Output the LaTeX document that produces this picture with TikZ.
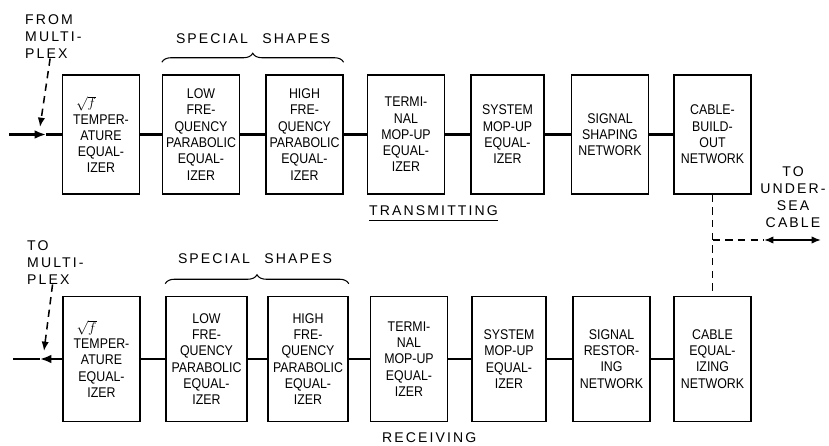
\documentclass[tikz,border=0pt]{standalone}
\usepackage{fontspec}
\usepackage{tikz}
\usetikzlibrary{arrows.meta, decorations.pathreplacing}
\newfontfamily\letterfont{Liberation Sans}
\newfontfamily\narrowfont[FakeStretch=0.88]{Liberation Sans}
\newcommand{\boxfont}{\fontsize{12}{13.9}\narrowfont}
\newcommand{\labfont}{\fontsize{12}{14.6}\letterfont\addfontfeatures{LetterSpace=15}}

\begin{document}
\begin{tikzpicture}[
    blk/.style={draw, line width=1.3pt, minimum width=23mm,
                minimum height=35.7mm, align=center, font=\boxfont,
                inner sep=1pt},
    rblk/.style={blk, minimum height=37.5mm},
    sig/.style={line width=1.8pt},
    arr/.style={-{Latex[length=3.4mm, width=2.6mm]}, line width=1.8pt},
    dsh/.style={line width=1.3pt, dash pattern=on 2.2mm off 1.6mm},
    lab/.style={font=\labfont, align=left, anchor=north west, inner sep=0pt},
    x=0.3mm, y=-0.3mm
  ]
  \useasboundingbox (0,0) rectangle (829,446);

  % Transmitting chain
  \node[lab] (fm) at (25,14) {FROM\\MULTI-\\PLEX};
  \coordinate (tin) at (9,134.5);
  \coordinate (tmark) at (46,134.5);
  \coordinate (fmtip) at (40,127);
  \node[blk] (tx1) at (101,134.5)
    {$\sqrt{f}$\hspace*{9mm}\\TEMPER-\\ATURE\\EQUAL-\\IZER};
  \node[blk] (tx2) at (201,134.5)
    {LOW\\FRE-\\QUENCY\\PARABOLIC\\EQUAL-\\IZER};
  \node[blk] (tx3) at (304.5,134.5)
    {HIGH\\FRE-\\QUENCY\\PARABOLIC\\EQUAL-\\IZER};
  \node[blk] (tx4) at (406,134.5)
    {TERMI-\\NAL\\MOP-UP\\EQUAL-\\IZER};
  \node[blk, minimum width=22mm] (tx5) at (507.5,134.5)
    {SYSTEM\\MOP-UP\\EQUAL-\\IZER};
  \node[blk] (tx6) at (610,134.5)
    {SIGNAL\\SHAPING\\NETWORK};
  \node[blk] (tx7) at (712.5,134.5)
    {CABLE-\\BUILD-\\OUT\\NETWORK};
  \draw[dsh, -{Latex[length=2.8mm, width=2.2mm]}] (fm) -- (fmtip);
  \draw[arr] (tin) -- (tmark);
  \draw[sig] (tmark) -- (tx1);
  \draw[sig] (tx1) -- (tx2);
  \draw[sig] (tx2) -- (tx3);
  \draw[sig] (tx3) -- (tx4);
  \draw[sig] (tx4) -- (tx5);
  \draw[sig] (tx5) -- (tx6);
  \draw[sig] (tx6) -- (tx7);
  \draw[decorate, decoration={brace, amplitude=2.7mm}, line width=0.9pt]
    ([yshift=3.6mm]tx2.north west) -- ([yshift=3.6mm]tx3.north east);
  \node[lab, anchor=center] (tsp) at (253,39) {SPECIAL\hspace{2.5mm} SHAPES};
  \node[lab, inner sep=1.5mm] (trn) at (364,200) {TRANSMITTING};
  \draw[line width=0.9pt] ([xshift=1.5mm]trn.south west) -- ([xshift=-1.5mm]trn.south east);

  % Receiving chain
  \node[lab] (tm) at (27,240) {TO\\MULTI-\\PLEX};
  \coordinate (rout) at (13,359);
  \coordinate (rmark) at (40,359);
  \coordinate (tmtip) at (44,351);
  \node[rblk] (rx1) at (101.5,359)
    {$\sqrt{f}$\hspace*{9mm}\\TEMPER-\\ATURE\\EQUAL-\\IZER};
  \node[rblk, minimum width=24.3mm] (rx2) at (206.5,359)
    {LOW\\FRE-\\QUENCY\\PARABOLIC\\EQUAL-\\IZER};
  \node[rblk, minimum width=24mm] (rx3) at (308,359)
    {HIGH\\FRE-\\QUENCY\\PARABOLIC\\EQUAL-\\IZER};
  \node[rblk] (rx4) at (409,359)
    {TERMI-\\NAL\\MOP-UP\\EQUAL-\\IZER};
  \node[rblk, minimum width=22.2mm] (rx5) at (509,359)
    {SYSTEM\\MOP-UP\\EQUAL-\\IZER};
  \node[rblk] (rx6) at (611.5,359)
    {SIGNAL\\RESTOR-\\ING\\NETWORK};
  \node[rblk] (rx7) at (712.5,359)
    {CABLE\\EQUAL-\\IZING\\NETWORK};
  \draw[dsh, -{Latex[length=2.8mm, width=2.2mm]}] (tm) -- (tmtip);
  \draw[arr] (rx1) -- (rmark);
  \draw[sig] (rmark) -- (rout);
  \draw[sig] (rx1) -- (rx2);
  \draw[sig] (rx2) -- (rx3);
  \draw[sig] (rx3) -- (rx4);
  \draw[sig] (rx4) -- (rx5);
  \draw[sig] (rx5) -- (rx6);
  \draw[sig] (rx6) -- (rx7);
  \draw[decorate, decoration={brace, amplitude=2.7mm}, line width=0.9pt]
    ([yshift=3.6mm]rx2.north west) -- ([yshift=3.6mm]rx3.north east);
  \node[lab, anchor=center] (rsp) at (255,259) {SPECIAL\hspace{2.5mm} SHAPES};
  \node[lab, inner sep=0pt] (rcv) at (382,432) {RECEIVING};

  % Undersea cable
  \coordinate (jn) at (712.5,240);
  \coordinate (cl) at (764,240);
  \coordinate (cr) at (821,240);
  \node[lab, align=center, anchor=center] (cab) at (793,197)
    {TO\\UNDER-\\SEA\\CABLE};
  \draw[dsh] (tx7) -- (rx7);
  \draw[dsh] (jn) -- (cl);
  \draw[{Latex[length=2.8mm, width=2.2mm]}-{Latex[length=2.8mm, width=2.2mm]},
        line width=1.3pt] (cl) -- (cr);
\end{tikzpicture}
\end{document}
